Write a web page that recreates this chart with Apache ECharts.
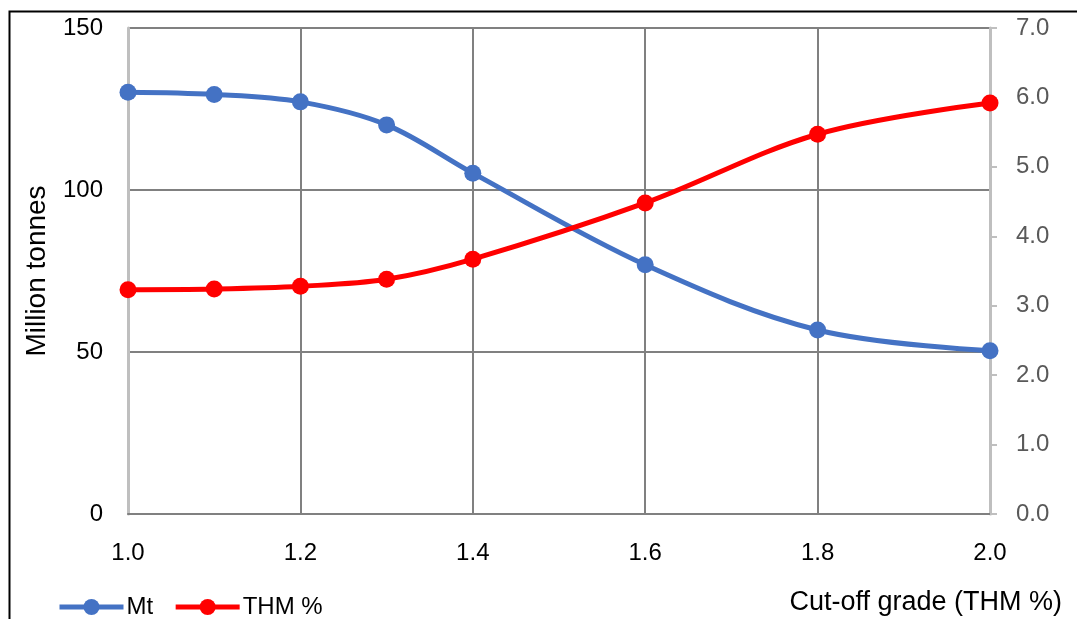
<!DOCTYPE html>
<html>
<head>
<meta charset="utf-8">
<script src="https://cdn.jsdelivr.net/npm/echarts@6/dist/echarts.min.js"></script>
<style>
html,body{margin:0;padding:0;background:#fff;}
#c{width:1077px;height:619px;}
</style>
</head>
<body>
<div id="c"></div>
<script>
var cutoff = [1.0, 1.1, 1.2, 1.3, 1.4, 1.6, 1.8, 2.0];
var mt = [130.2, 129.5, 127.2, 120.1, 105.2, 76.9, 56.8, 50.4];
var thm = [3.23, 3.24, 3.28, 3.38, 3.67, 4.48, 5.47, 5.92];
var xTickInterval = 0.2;

var FONT = 'Liberation Sans';
var chart = echarts.init(document.getElementById('c'));
function pairs(xs, ys){ return xs.map(function(x,i){ return [x, ys[i]]; }); }

chart.setOption({
  animation: false,
  textStyle: {fontFamily: FONT},
  grid: {left: 128, right: 87, top: 28, bottom: 105, containLabel: false},
  graphic: [
    {type:'rect', left: 7, top: 9, shape:{width: 1100, height: 640}, style:{fill:'none', stroke:'#000', lineWidth:2}, z: 0},
    {type:'text', right: 15, top: 589, style:{text:'Cut-off grade (THM %)', font:'27px "'+FONT+'"', fill:'#000'}}
  ],
  legend: {
    left: 52, top: 590,
    itemWidth: 64, itemHeight: 20, itemGap: 20,
    lineStyle: {width: 5},
    textStyle: {fontSize: 24, color: '#000', fontFamily: FONT, padding: [0, 0, 0, -2]},
    data: ['Mt', 'THM %']
  },
  xAxis: {
    type: 'value', min: 1.0, max: 2.0, interval: xTickInterval,
    axisLine: {show: true, lineStyle: {color: '#808080', width: 2}},
    axisTick: {show: false},
    axisLabel: {fontSize: 24, color: '#000', margin: 27, formatter: function(v){ return v.toFixed(1); }},
    splitLine: {show: true, lineStyle: {color: '#808080', width: 2}}
  },
  yAxis: [
    {
      type: 'value', min: 0, max: 150, interval: 50,
      name: 'Million tonnes', nameLocation: 'middle', nameGap: 77,
      nameTextStyle: {fontSize: 28, color: '#000'},
      axisLine: {show: true, lineStyle: {color: '#bfbfbf', width: 3}},
      axisTick: {show: false},
      axisLabel: {fontSize: 24, color: '#000', margin: 25},
      splitLine: {show: true, lineStyle: {color: '#808080', width: 2}}
    },
    {
      type: 'value', min: 0, max: 7, interval: 1, position: 'right',
      axisLine: {show: true, lineStyle: {color: '#bfbfbf', width: 3}},
      axisTick: {show: true, length: 7, lineStyle: {color: '#bfbfbf', width: 2}},
      axisLabel: {fontSize: 24, color: '#595959', margin: 26, formatter: function(v){ return v.toFixed(1); }},
      splitLine: {show: false}
    }
  ],
  series: [
    {
      name: 'Mt', type: 'line', yAxisIndex: 0, smooth: 0.35,
      data: pairs(cutoff, mt),
      symbol: 'circle', symbolSize: 17,
      lineStyle: {color: '#4472C4', width: 5},
      itemStyle: {color: '#4472C4'},
      z: 3
    },
    {
      name: 'THM %', type: 'line', yAxisIndex: 1, smooth: 0.35,
      data: pairs(cutoff, thm),
      symbol: 'circle', symbolSize: 17,
      lineStyle: {color: '#FF0000', width: 5},
      itemStyle: {color: '#FF0000'},
      z: 4
    }
  ]
});
</script>
</body>
</html>
